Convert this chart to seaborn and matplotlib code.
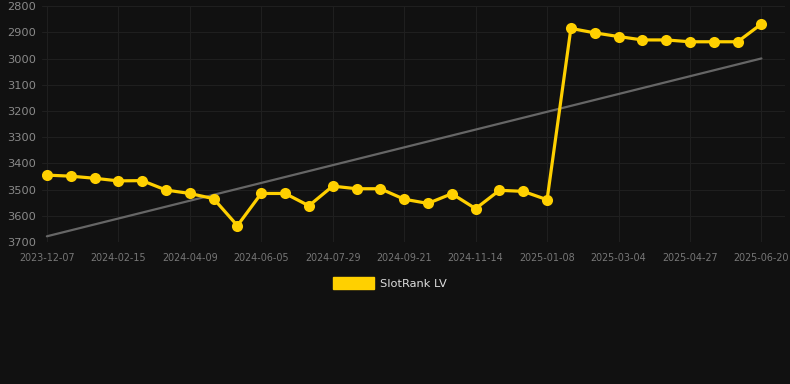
import numpy as np
import pandas as pd
import matplotlib
matplotlib.use("Agg")
import matplotlib.pyplot as plt
from matplotlib.patches import Patch
import seaborn as sns

# data (rank, lower is better -> inverted axis)
dates = ['2023-12-07', '2023-12-30', '2024-01-22', '2024-02-15', '2024-03-03',
         '2024-03-21', '2024-04-09', '2024-04-28', '2024-05-17', '2024-06-05',
         '2024-06-23', '2024-07-11', '2024-07-29', '2024-08-16', '2024-09-03',
         '2024-09-21', '2024-10-09', '2024-10-27', '2024-11-14', '2024-12-02',
         '2024-12-20', '2025-01-08', '2025-01-26', '2025-02-13', '2025-03-04',
         '2025-03-22', '2025-04-09', '2025-04-27', '2025-05-15', '2025-06-02',
         '2025-06-20']
rank = [3445, 3449, 3457, 3467, 3466, 3502, 3515, 3535, 3638, 3515,
        3515, 3562, 3487, 3497, 3497, 3537, 3553, 3516, 3573, 3503,
        3507, 3539, 2885, 2902, 2916, 2929, 2929, 2936, 2936, 2936,
        2868]
series_name = 'SlotRank LV'
yticks = [2800, 2900, 3000, 3100, 3200, 3300, 3400, 3500, 3600, 3700]

df = pd.DataFrame({'pos': np.arange(len(dates)), 'date': dates, 'rank': rank})

# linear trend over the series
coef = np.polyfit(df['pos'], df['rank'], 1)
df['trend'] = np.polyval(coef, df['pos'])

bg = '#111111'
sns.set_style('dark', {'axes.facecolor': bg, 'figure.facecolor': bg})
plt.rcParams['font.family'] = ['DejaVu Sans']

fig = plt.figure(figsize=(7.9, 3.84), dpi=100)
ax = fig.add_axes([0.053, 0.370, 0.941, 0.614])
ax.set_facecolor(bg)

sns.lineplot(data=df, x='pos', y='trend', ax=ax, color='#666666', linewidth=1.6)
sns.lineplot(data=df, x='pos', y='rank', ax=ax, color='#FFD000', linewidth=2.3,
             marker='o', markersize=8, markeredgewidth=0, label=series_name)

ax.set_ylim(3700, 2800)
ax.set_xlim(-0.21, 31.0)
ax.set_yticks(yticks)
ax.set_yticklabels([str(v) for v in yticks], color='#8a8a8a', fontsize=8.2)
tick_pos = list(range(0, len(dates), 3))
ax.set_xticks(tick_pos)
ax.set_xticklabels([dates[i] for i in tick_pos], color='#777777', fontsize=6.9)
ax.tick_params(axis='y', length=0, pad=4)
ax.tick_params(axis='x', length=0, pad=8)
ax.grid(True, color='#1f1f1f', linewidth=0.8)
ax.set_xlabel('')
ax.set_ylabel('')
for s in ax.spines.values():
    s.set_visible(False)

# legend below the plot, rectangle patch style
ax.legend(handles=[Patch(color='#FFD000', label=series_name)],
          loc='center', bbox_to_anchor=(0.468, -0.175), frameon=False,
          fontsize=8.2, labelcolor='#dddddd', handlelength=3.6, handleheight=1.2,
          handletextpad=0.5)

fig.savefig('out.png', dpi=100, facecolor=bg)
